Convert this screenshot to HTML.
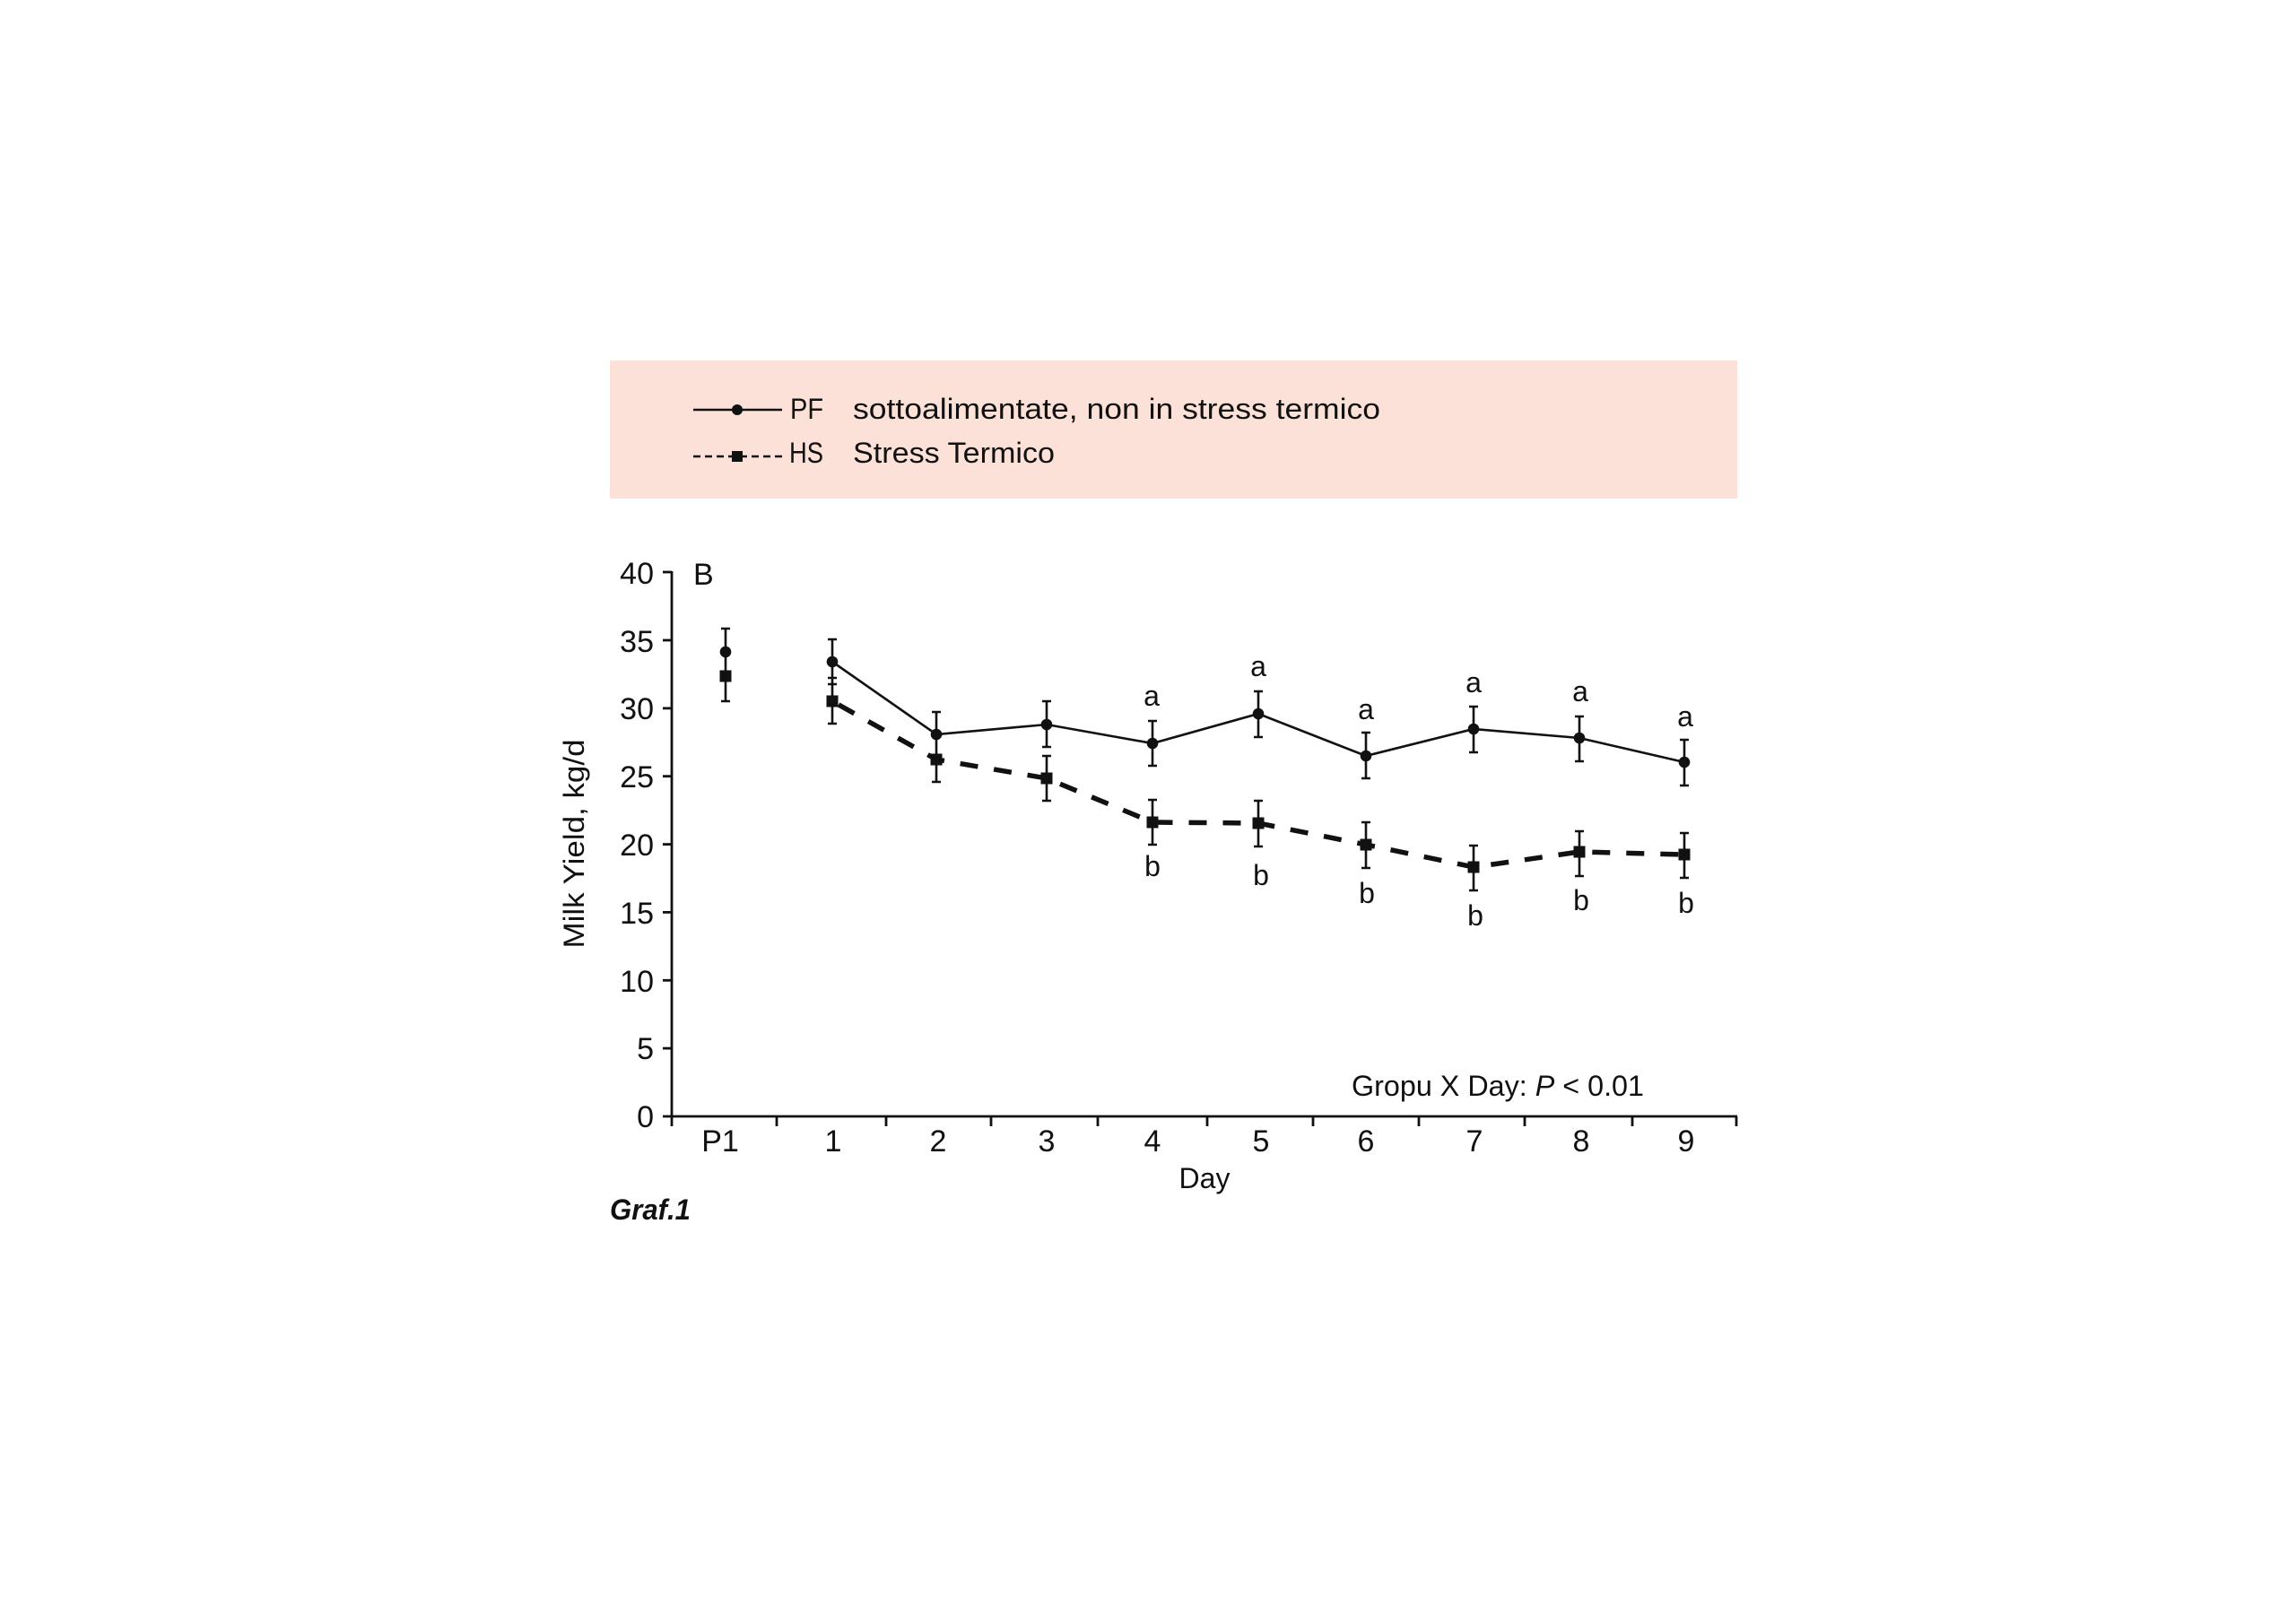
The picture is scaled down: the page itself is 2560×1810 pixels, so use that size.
<!DOCTYPE html>
<html>
<head>
<meta charset="utf-8">
<style>
html,body{margin:0;padding:0;background:#fff;}
svg{display:block;}
text{font-family:"Liberation Sans",sans-serif;fill:#111;}
</style>
</head>
<body>
<svg width="2560" height="1810" viewBox="0 0 2560 1810" xmlns="http://www.w3.org/2000/svg">
<rect x="0" y="0" width="2560" height="1810" fill="#fff"/>
<!-- Legend -->
<rect x="680" y="402" width="1257" height="154" fill="#fce1d8"/>
<line x1="773" y1="457" x2="872" y2="457" stroke="#111" stroke-width="2.5"/>
<circle cx="822" cy="457" r="6" fill="#111"/>
<text x="881" y="467" font-size="32" textLength="37" lengthAdjust="spacingAndGlyphs">PF</text>
<text x="951" y="467" font-size="32" textLength="588" lengthAdjust="spacingAndGlyphs">sottoalimentate, non in stress termico</text>
<line x1="773" y1="509" x2="872" y2="509" stroke="#111" stroke-width="2.5" stroke-dasharray="8,5"/>
<rect x="816" y="503" width="12" height="12" fill="#111"/>
<text x="880" y="516" font-size="32" textLength="38" lengthAdjust="spacingAndGlyphs">HS</text>
<text x="951" y="516" font-size="32" textLength="225" lengthAdjust="spacingAndGlyphs">Stress Termico</text>

<!-- Axes -->
<g stroke="#111" stroke-width="2.8" fill="none">
<line x1="749" y1="637" x2="749" y2="1256"/>
<line x1="739" y1="1245" x2="1937" y2="1245"/>
<line x1="739" y1="638" x2="749" y2="638"/>
<line x1="739" y1="714" x2="749" y2="714"/>
<line x1="739" y1="789.9" x2="749" y2="789.9"/>
<line x1="739" y1="865.7" x2="749" y2="865.7"/>
<line x1="739" y1="941.6" x2="749" y2="941.6"/>
<line x1="739" y1="1017.4" x2="749" y2="1017.4"/>
<line x1="739" y1="1093.3" x2="749" y2="1093.3"/>
<line x1="739" y1="1169.1" x2="749" y2="1169.1"/>
<line x1="866" y1="1245" x2="866" y2="1256"/>
<line x1="988" y1="1245" x2="988" y2="1256"/>
<line x1="1105" y1="1245" x2="1105" y2="1256"/>
<line x1="1224" y1="1245" x2="1224" y2="1256"/>
<line x1="1346" y1="1245" x2="1346" y2="1256"/>
<line x1="1464" y1="1245" x2="1464" y2="1256"/>
<line x1="1582" y1="1245" x2="1582" y2="1256"/>
<line x1="1700" y1="1245" x2="1700" y2="1256"/>
<line x1="1820" y1="1245" x2="1820" y2="1256"/>
<line x1="1936" y1="1245" x2="1936" y2="1256"/>
</g>

<!-- Y tick labels -->
<g font-size="34" text-anchor="end">
<text x="729" y="651">40</text>
<text x="729" y="727">35</text>
<text x="729" y="802">30</text>
<text x="729" y="878">25</text>
<text x="729" y="954">20</text>
<text x="729" y="1030">15</text>
<text x="729" y="1106">10</text>
<text x="729" y="1181">5</text>
<text x="729" y="1257">0</text>
</g>
<!-- X tick labels -->
<g font-size="34" text-anchor="middle">
<text x="803" y="1284">P1</text>
<text x="929" y="1284">1</text>
<text x="1046" y="1284">2</text>
<text x="1167" y="1284">3</text>
<text x="1285" y="1284">4</text>
<text x="1406" y="1284">5</text>
<text x="1523" y="1284">6</text>
<text x="1644" y="1284">7</text>
<text x="1763" y="1284">8</text>
<text x="1880" y="1284">9</text>
</g>
<text x="1343" y="1325" font-size="32" text-anchor="middle">Day</text>
<text x="773" y="652" font-size="34">B</text>
<text transform="translate(651,941) rotate(-90)" font-size="32" text-anchor="middle" textLength="233" lengthAdjust="spacingAndGlyphs">Milk Yield, kg/d</text>
<text x="1507" y="1222" font-size="32" textLength="326" lengthAdjust="spacingAndGlyphs">Gropu X Day: <tspan font-style="italic">P</tspan> &lt; 0.01</text>
<text x="680" y="1360" font-size="32" font-weight="bold" font-style="italic" textLength="90" lengthAdjust="spacingAndGlyphs">Graf.1</text>

<!-- Series lines -->
<polyline fill="none" stroke="#111" stroke-width="2.6" points="928,738 1044,819 1167,808 1285,829 1403,796 1523,843 1643,813 1761,823 1878,850"/>
<polyline fill="none" stroke="#111" stroke-width="5.5" stroke-dasharray="20,18" stroke-dashoffset="-8" points="928,782 1044,847 1167,868 1285,917 1403,918 1523,942 1643,967 1761,950 1878,953"/>

<!-- Error bars -->
<g stroke="#111" stroke-width="2.6" fill="none">
<path d="M809,701V782 M804,701H814 M804,782H814"/>
<path d="M928,713V807 M923,713H933 M923,763H933 M923,756H933 M923,807H933"/>
<path d="M1044,794V872 M1039,794H1049 M1039,872H1049"/>
<path d="M1167,782V833 M1162,782H1172 M1162,833H1172 M1167,843V893 M1162,843H1172 M1162,893H1172"/>
<path d="M1285,804V854 M1280,804H1290 M1280,854H1290 M1285,892V942 M1280,892H1290 M1280,942H1290"/>
<path d="M1403,771V822 M1398,771H1408 M1398,822H1408 M1403,893V944 M1398,893H1408 M1398,944H1408"/>
<path d="M1523,817V868 M1518,817H1528 M1518,868H1528 M1523,917V968 M1518,917H1528 M1518,968H1528"/>
<path d="M1643,788V839 M1638,788H1648 M1638,839H1648 M1643,943V993 M1638,943H1648 M1638,993H1648"/>
<path d="M1761,799V849 M1756,799H1766 M1756,849H1766 M1761,927V977 M1756,927H1766 M1756,977H1766"/>
<path d="M1878,825V876 M1873,825H1883 M1873,876H1883 M1878,929V979 M1873,929H1883 M1873,979H1883"/>
</g>

<!-- Markers -->
<g fill="#111">
<circle cx="809" cy="727" r="6.3"/>
<circle cx="928" cy="738" r="6.3"/>
<circle cx="1044" cy="819" r="6.3"/>
<circle cx="1167" cy="808" r="6.3"/>
<circle cx="1285" cy="829" r="6.3"/>
<circle cx="1403" cy="796" r="6.3"/>
<circle cx="1523" cy="843" r="6.3"/>
<circle cx="1643" cy="813" r="6.3"/>
<circle cx="1761" cy="823" r="6.3"/>
<circle cx="1878" cy="850" r="6.3"/>
<rect x="802.5" y="747.5" width="13" height="13"/>
<rect x="921.5" y="775.5" width="13" height="13"/>
<rect x="1037.5" y="840.5" width="13" height="13"/>
<rect x="1160.5" y="861.5" width="13" height="13"/>
<rect x="1278.5" y="910.5" width="13" height="13"/>
<rect x="1396.5" y="911.5" width="13" height="13"/>
<rect x="1516.5" y="935.5" width="13" height="13"/>
<rect x="1636.5" y="960.5" width="13" height="13"/>
<rect x="1754.5" y="943.5" width="13" height="13"/>
<rect x="1871.5" y="946.5" width="13" height="13"/>
</g>

<!-- Significance letters -->
<g font-size="32" text-anchor="middle">
<text x="1284" y="787">a</text>
<text x="1403" y="754">a</text>
<text x="1523" y="802">a</text>
<text x="1643" y="772">a</text>
<text x="1762" y="782">a</text>
<text x="1879" y="810">a</text>
<text x="1285" y="977">b</text>
<text x="1406" y="987">b</text>
<text x="1524" y="1007">b</text>
<text x="1645" y="1032">b</text>
<text x="1763" y="1015">b</text>
<text x="1880" y="1018">b</text>
</g>
</svg>
</body>
</html>
